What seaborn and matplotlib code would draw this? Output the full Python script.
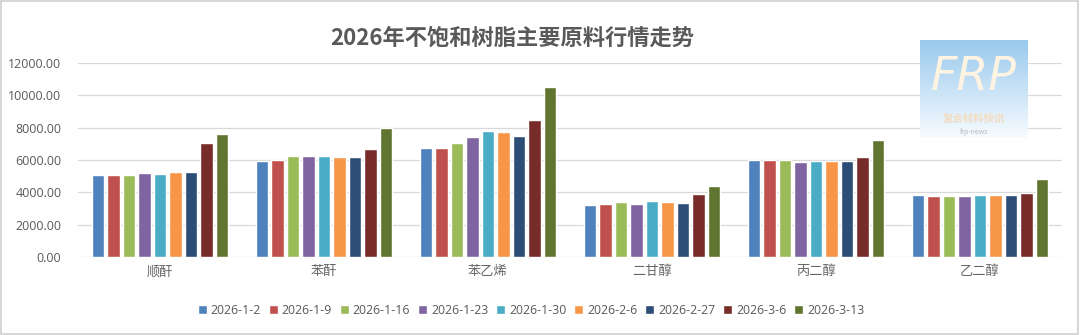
import numpy as np
import pandas as pd
import seaborn as sns
import matplotlib
matplotlib.use("Agg")
import matplotlib.pyplot as plt
from matplotlib.patches import Rectangle

# Raw-material categories and weekly price snapshots (yuan/ton)
categories = ["顺酐", "苯酐", "苯乙烯", "二甘醇", "丙二醇", "乙二醇"]
dates = ["2026-1-2", "2026-1-9", "2026-1-16", "2026-1-23", "2026-1-30",
         "2026-2-6", "2026-2-27", "2026-3-6", "2026-3-13"]

shunGan = [5100, 5100, 5100, 5200, 5150, 5250, 5250, 7080, 7600]
benGan = [5950, 6030, 6250, 6250, 6250, 6170, 6170, 6650, 7950]
benYiXi = [6750, 6750, 7080, 7430, 7800, 7750, 7500, 8480, 10520]
erGanChun = [3200, 3300, 3400, 3300, 3450, 3400, 3370, 3880, 4400]
bingErChun = [5980, 5980, 5980, 5880, 5940, 5940, 5940, 6170, 7260]
yiErChun = [3820, 3760, 3760, 3760, 3820, 3820, 3820, 3980, 4850]

series_by_category = [shunGan, benGan, benYiXi, erGanChun, bingErChun, yiErChun]

palette = ["#4F81BD", "#C0504D", "#9BBB59", "#8064A2", "#4BACC6",
           "#F79646", "#2C4D75", "#772C2A", "#5F7530"]

rows = []
for cat, vals in zip(categories, series_by_category):
    for d, v in zip(dates, vals):
        rows.append({"原料": cat, "日期": d, "价格": v})
df = pd.DataFrame(rows)

sns.set_theme(style="white")
plt.rcParams["font.family"] = ["Noto Sans CJK SC", "DejaVu Sans"]

fig = plt.figure(figsize=(10.8, 3.35), dpi=100)
ax = fig.add_axes([78 / 1080, 78 / 335, 984 / 1080, 194 / 335])

sns.barplot(data=df, x="原料", y="价格", hue="日期", hue_order=dates,
            order=categories, palette=palette, width=0.85, gap=0.2,
            saturation=1, errorbar=None, legend=True, ax=ax, zorder=3)

ax.set_ylim(0, 12000)
ax.set_yticks(np.arange(0, 12001, 2000))
ax.set_yticklabels([f"{v:.2f}" for v in np.arange(0, 12001, 2000)],
                   family=["Open Sans", "DejaVu Sans"])
ax.set_xlim(-0.5, len(categories) - 0.5)
ax.grid(axis="y", color="#D9D9D9", linewidth=0.9, zorder=0)
ax.set_axisbelow(True)
for s in ax.spines.values():
    s.set_visible(False)
ax.tick_params(axis="y", length=0, pad=12, labelsize=9, labelcolor="#595959")
ax.tick_params(axis="x", length=0, pad=6, labelsize=9.5, labelcolor="#666666")
for t in ax.get_xticklabels():
    t.set_fontweight("light")
ax.set_xlabel("")
ax.set_ylabel("")

leg = ax.legend(loc="center", bbox_to_anchor=(531 / 1080, 1 - 310 / 335),
                bbox_transform=fig.transFigure, ncol=9, frameon=False,
                fontsize=8.8, handlelength=0.75, handleheight=0.75,
                handletextpad=0.3, columnspacing=0.65)
for t in leg.get_texts():
    t.set_color("#595959")
    t.set_family(["Open Sans", "DejaVu Sans"])

fig.text(512 / 1080, 1 - 38 / 335, "2026年不饱和树脂主要原料行情走势",
         ha="center", va="center", fontsize=16, fontweight="bold",
         color="#595959")

# Logo badge in the top right corner
logo = fig.add_axes([920 / 1080, 1 - 138 / 335, 108 / 1080, 98 / 335])
grad = np.linspace(0, 1, 100)[:, None]
top = np.array([0.60, 0.79, 0.93])
bottom = np.array([0.97, 0.985, 1.0])
img = top[None, None, :] * (1 - grad[:, :, None]) + bottom[None, None, :] * grad[:, :, None]
img = np.repeat(img, 10, axis=1)
logo.imshow(img, aspect="auto", extent=[0, 1, 0, 1])
logo.set_xlim(0, 1)
logo.set_ylim(0, 1)
logo.axis("off")
logo.text(0.5, 0.62, "FRP", ha="center", va="center", fontsize=33,
          style="italic", color="#FFF4E2", family=["DejaVu Sans"])
logo.text(0.5, 0.2, "复合材料快讯", ha="center", va="center", fontsize=7.5,
          color="#F3DCC0", fontweight="bold")
logo.text(0.5, 0.06, "frp-news", ha="center", va="center", fontsize=5,
          color="#B8B8B8")

fig.patches.append(Rectangle((0.001, 0.002), 0.997, 0.995, transform=fig.transFigure,
                             fill=False, edgecolor="#D0D0D0", linewidth=1.2))

fig.savefig("out.png", dpi=100, facecolor="white")
